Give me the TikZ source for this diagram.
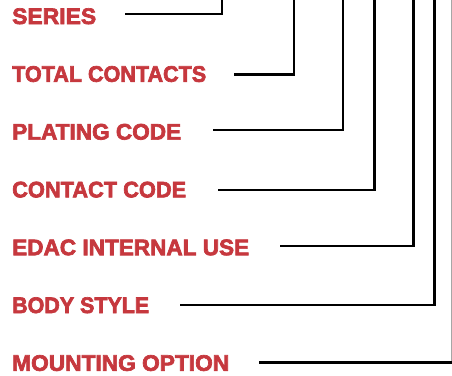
\documentclass[tikz,border=0pt]{standalone}
\usepackage{fontspec}
\setmainfont{Liberation Sans}[BoldFont={* Bold},BoldFeatures={FakeBold=3}]
\definecolor{lblred}{RGB}{198,56,62}
\newcommand{\fitlabel}[2]{\resizebox{#1pt}{\height}{#2}}
\begin{document}
\begin{tikzpicture}[x=1pt,y=-1pt,
  lbl/.style={anchor=base west,inner sep=0pt,text=lblred,font=\bfseries\fontsize{22.5}{22.5}\selectfont},
  leader/.style={draw=black,line width=2.2pt,line join=miter}]
\useasboundingbox (0,0) rectangle (452,375);
\node[lbl] (l1) at (12,24)    {\fitlabel{84}{SERIES}};
\node[lbl] (l2) at (12,81.8)  {\fitlabel{194}{TOTAL CONTACTS}};
\node[lbl] (l3) at (12,139.6) {\fitlabel{169}{PLATING CODE}};
\node[lbl] (l4) at (12,197.4) {\fitlabel{174}{CONTACT CODE}};
\node[lbl] (l5) at (12,255.2) {\fitlabel{237}{EDAC INTERNAL USE}};
\node[lbl] (l6) at (12,313)   {\fitlabel{137}{BODY STYLE}};
\node[lbl] (l7) at (12,370.8) {\fitlabel{217}{MOUNTING OPTION}};
\coordinate (a1) at (125,14);   \coordinate (t1) at (222,-2);
\coordinate (a2) at (234,74.5); \coordinate (t2) at (294,-2);
\coordinate (a3) at (213,130);  \coordinate (t3) at (343,-2);
\coordinate (a4) at (218,190);  \coordinate (t4) at (374.5,-2);
\coordinate (a5) at (280,246);  \coordinate (t5) at (413.5,-2);
\coordinate (a6) at (180,305);  \coordinate (t6) at (434.5,-2);
\coordinate (a7) at (259,362.5); \coordinate (t7) at (454,362.5);
\coordinate (g1) at (451.5,-2); \coordinate (g2) at (451.5,361);
\draw[leader] (a1) -| (t1);
\draw[leader] (a2) -| (t2);
\draw[leader] (a3) -| (t3);
\draw[leader] (a4) -| (t4);
\draw[leader] (a5) -| (t5);
\draw[leader] (a6) -| (t6);
\draw[leader] (a7) -- (t7);
\draw[gray!70,line width=1pt] (g1) -- (g2);
\end{tikzpicture}
\end{document}
